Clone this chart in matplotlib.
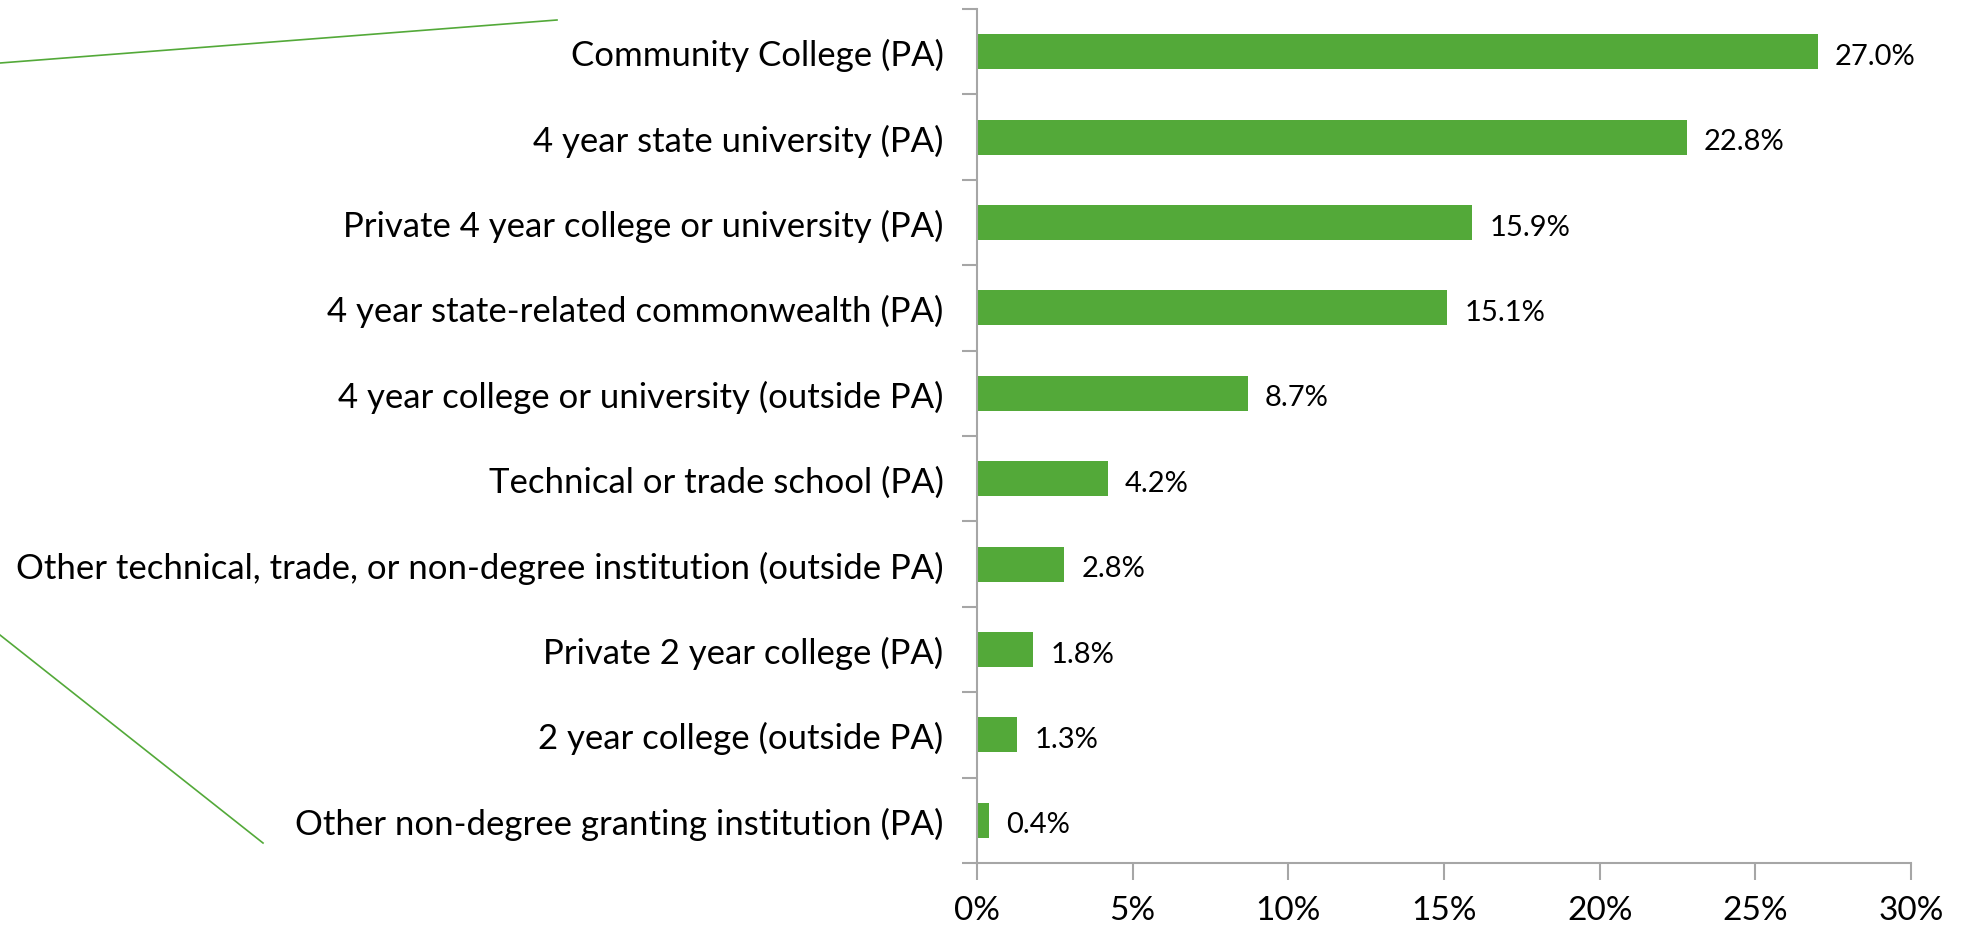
import matplotlib
matplotlib.use("Agg")
import matplotlib.pyplot as plt
from matplotlib.ticker import FixedLocator
from matplotlib.transforms import offset_copy

categories = [
    "Community College (PA)",
    "4 year state university (PA)",
    "Private 4 year college or university (PA)",
    "4 year state-related commonwealth (PA)",
    "4 year college or university (outside PA)",
    "Technical or trade school (PA)",
    "Other technical, trade, or non-degree institution (outside PA)",
    "Private 2 year college (PA)",
    "2 year college (outside PA)",
    "Other non-degree granting institution (PA)",
]
values = [27.0, 22.8, 15.9, 15.1, 8.7, 4.2, 2.8, 1.8, 1.3, 0.4]
xticks = [0, 5, 10, 15, 20, 25, 30]
xtick_labels = ["0%", "5%", "10%", "15%", "20%", "25%", "30%"]

GREEN = "#53A939"
AXIS = "#A6A6A6"
FONT = "Lato"

W, H = 1970, 928
fig = plt.figure(figsize=(W / 100, H / 100), dpi=100)
ax = fig.add_axes([977 / W, 1 - 864 / H, (1911 - 977) / W, (864 - 10) / H])

ypos = list(range(len(categories)))
ax.barh(ypos, values, height=0.41, color=GREEN, edgecolor="none")
lbl_tr = offset_copy(ax.transData, fig=fig, x=0, y=-3, units="points")
for y, v in zip(ypos, values):
    ax.text(v + 0.55, y, f"{v:.1f}%", va="center", ha="left",
            fontsize=21, family=FONT, color="black", transform=lbl_tr)

ax.set_xlim(0, 30)
ax.set_ylim(len(categories) - 0.5, -0.5)
ax.set_yticks(ypos)
ax.set_yticklabels(categories, fontsize=25, family=FONT)
ax.yaxis.set_minor_locator(FixedLocator([i - 0.5 for i in range(len(categories) + 1)]))
ax.tick_params(axis="y", which="major", length=0, pad=24)
ax.tick_params(axis="y", which="minor", length=11, width=1.5, color=AXIS, direction="out")
ax.set_xticks(xticks)
ax.set_xticklabels(xtick_labels, fontsize=24, family=FONT)
ax.tick_params(axis="x", which="major", length=12, width=1.5, color=AXIS, direction="out", pad=11)

for s in ["top", "right"]:
    ax.spines[s].set_visible(False)
for s in ["left", "bottom"]:
    ax.spines[s].set_color(AXIS)
    ax.spines[s].set_linewidth(1.5)

# leader lines (pie-of-bar connectors) in figure pixel coords
fig.add_artist(plt.Line2D([0 / W, 557 / W], [1 - 64 / H, 1 - 21 / H], color=GREEN, lw=1.2,
                          transform=fig.transFigure))
fig.add_artist(plt.Line2D([0 / W, 263 / W], [1 - 636 / H, 1 - 844 / H], color=GREEN, lw=1.2,
                          transform=fig.transFigure))

fig.savefig("out.png", dpi=100)
